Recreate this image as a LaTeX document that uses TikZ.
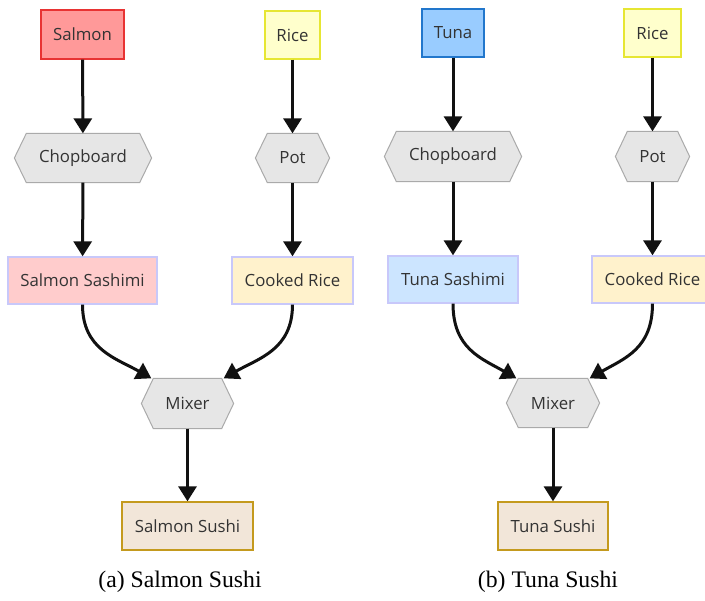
\documentclass[tikz,border=0pt]{standalone}
\usepackage{fontspec}
\setmainfont{Liberation Serif}
\newfontfamily\nodefont{Open Sans}
\usetikzlibrary{arrows.meta,backgrounds}
\definecolor{txt}{HTML}{333333}
\definecolor{salmonF}{HTML}{FF9999}
\definecolor{salmonD}{HTML}{E83333}
\definecolor{riceF}{HTML}{FFFFCC}
\definecolor{riceD}{HTML}{E6E633}
\definecolor{hexF}{HTML}{E6E6E6}
\definecolor{hexD}{HTML}{AAAAAA}
\definecolor{sashF}{HTML}{FFCCCC}
\definecolor{lavD}{HTML}{C8C8FA}
\definecolor{cookF}{HTML}{FFF2CC}
\definecolor{sushiF}{HTML}{F2E6D9}
\definecolor{sushiD}{HTML}{C49A1E}
\definecolor{tunaF}{HTML}{99CCFF}
\definecolor{tunaD}{HTML}{2277CC}
\definecolor{tsashF}{HTML}{CCE5FF}
\definecolor{arr}{HTML}{111111}
\begin{document}
\begin{tikzpicture}[x=1pt,y=-1pt,
  box/.style={rectangle, inner sep=0pt, font=\nodefont\fontsize{16.8}{20}\selectfont, text=txt, line width=1.3pt},
  hexbox/.style={box, draw=none},
  hexline/.style={fill=hexF, draw=hexD, line width=1pt},
  flow/.style={line width=3pt, draw=arr, -{Triangle[width=18pt,length=15pt]}},
  captext/.style={font=\fontsize{23.7}{28}\selectfont, text=black}]
\useasboundingbox (0,0) rectangle (705,601);
% ---- left figure
\node[box, fill=salmonF, draw=salmonD, minimum width=83pt, minimum height=49pt] (salmon) at (82.5,34.5) {Salmon};
\node[box, fill=riceF, draw=riceD, minimum width=55pt, minimum height=48pt] (riceA) at (292.5,35) {Rice};
\node[hexbox, minimum width=136pt, minimum height=48pt] (chopA) at (83,158) {Chopboard};
\node[hexbox, minimum width=73pt, minimum height=48pt] (potA) at (292.5,158) {Pot};
\node[box, fill=sashF, draw=lavD, minimum width=149pt, minimum height=47pt] (sashA) at (82.5,280.5) {Salmon Sashimi};
\node[box, fill=cookF, draw=lavD, minimum width=121pt, minimum height=47pt] (cookA) at (292.5,280.5) {Cooked Rice};
\node[hexbox, minimum width=91pt, minimum height=49pt] (mixA) at (187.5,403.5) {Mixer};
\node[box, fill=sushiF, draw=sushiD, minimum width=131pt, minimum height=48pt] (sushiA) at (187.5,526) {Salmon Sushi};
\node[captext] (capA) at (180,582) {(a) Salmon Sushi};
% ---- right figure
\node[box, fill=tunaF, draw=tunaD, minimum width=62pt, minimum height=48pt] (tuna) at (453,33) {Tuna};
\node[box, fill=riceF, draw=riceD, minimum width=57pt, minimum height=48pt] (riceB) at (652.5,33) {Rice};
\node[hexbox, minimum width=136pt, minimum height=49pt] (chopB) at (453,156.5) {Chopboard};
\node[hexbox, minimum width=73pt, minimum height=49pt] (potB) at (652.5,156.5) {Pot};
\node[box, fill=tsashF, draw=lavD, minimum width=130pt, minimum height=47pt] (sashB) at (453,279.5) {Tuna Sashimi};
\node[box, fill=cookF, draw=lavD, minimum width=121pt, minimum height=47pt] (cookB) at (652.5,279.5) {Cooked Rice};
\node[hexbox, minimum width=92pt, minimum height=48pt] (mixB) at (553,403) {Mixer};
\node[box, fill=sushiF, draw=sushiD, minimum width=110pt, minimum height=48pt] (sushiB) at (553,526) {Tuna Sushi};
\node[captext] (capB) at (548,582) {(b) Tuna Sushi};
% ---- background and hexagons
\begin{scope}[on background layer]
\fill[white] (0,0) rectangle (705,601);
\foreach \n in {chopA,potA,mixA,chopB,potB,mixB}
  \draw[hexline] (\n.west) -- ([xshift=12pt]\n.north west) -- ([xshift=-12pt]\n.north east)
     -- (\n.east) -- ([xshift=-12pt]\n.south east) -- ([xshift=12pt]\n.south west) -- cycle;
\end{scope}
% ---- arrows
\draw[flow] (salmon) -- (chopA);
\draw[flow] (chopA) -- (sashA);
\draw[flow] (riceA) -- (potA);
\draw[flow] (potA) -- (cookA);
\draw[flow] (sashA.south) .. controls +(0,45) and +(-35,-20) .. ([xshift=10pt]mixA.north west);
\draw[flow] (cookA.south) .. controls +(0,45) and +(35,-20) .. ([xshift=-10pt]mixA.north east);
\draw[flow] (mixA) -- (sushiA);
\draw[flow] (tuna) -- (chopB);
\draw[flow] (chopB) -- (sashB);
\draw[flow] (riceB) -- (potB);
\draw[flow] (potB) -- (cookB);
\draw[flow] (sashB.south) .. controls +(0,45) and +(-35,-20) .. ([xshift=10pt]mixB.north west);
\draw[flow] (cookB.south) .. controls +(0,45) and +(35,-20) .. ([xshift=-10pt]mixB.north east);
\draw[flow] (mixB) -- (sushiB);
\end{tikzpicture}
\end{document}
